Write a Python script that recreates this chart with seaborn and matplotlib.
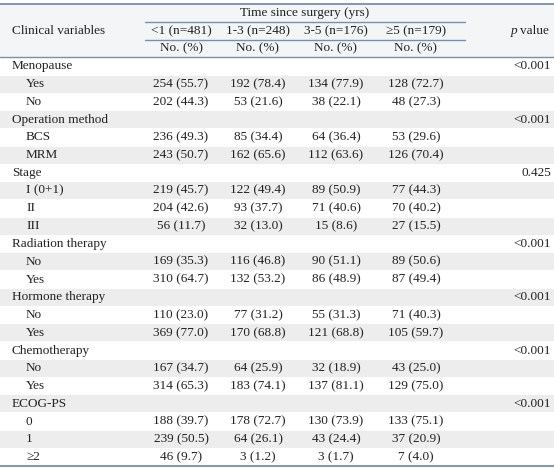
import numpy as np
import matplotlib
matplotlib.use("Agg")
import matplotlib.pyplot as plt
import seaborn as sns

# 表データ
row_labels = ["Menopause", "Yes", "No",
              "Operation method", "BCS", "MRM",
              "Stage", "I (0+1)", "II", "III",
              "Radiation therapy", "No", "Yes",
              "Hormone therapy", "No", "Yes",
              "Chemotherapy", "No", "Yes",
              "ECOG-PS", "0", "1", "\u22652"]
is_group = [True, False, False,
            True, False, False,
            True, False, False, False,
            True, False, False,
            True, False, False,
            True, False, False,
            True, False, False, False]
p_values = ["<0.001", "", "",
            "<0.001", "", "",
            "0.425", "", "", "",
            "<0.001", "", "",
            "<0.001", "", "",
            "<0.001", "", "",
            "<0.001", "", "", ""]

group_names = ["<1 (n=481)", "1-3 (n=248)", "3-5 (n=176)", "\u22655 (n=179)"]

# 件数 (サブ行のみ)
count_lt1 = [254, 202, 236, 243, 219, 204, 56, 169, 310, 110, 369, 167, 314, 188, 239, 46]
count_1to3 = [192, 53, 85, 162, 122, 93, 32, 116, 132, 77, 170, 64, 183, 178, 64, 3]
count_3to5 = [134, 38, 64, 112, 89, 71, 15, 90, 86, 55, 121, 32, 137, 130, 43, 3]
count_ge5 = [128, 48, 53, 126, 77, 70, 27, 89, 87, 71, 105, 43, 129, 133, 37, 7]
# 割合 (%)
pct_lt1 = [55.7, 44.3, 49.3, 50.7, 45.7, 42.6, 11.7, 35.3, 64.7, 23.0, 77.0, 34.7, 65.3, 39.7, 50.5, 9.7]
pct_1to3 = [78.4, 21.6, 34.4, 65.6, 49.4, 37.7, 13.0, 46.8, 53.2, 31.2, 68.8, 25.9, 74.1, 72.7, 26.1, 1.2]
pct_3to5 = [77.9, 22.1, 36.4, 63.6, 50.9, 40.6, 8.6, 51.1, 48.9, 31.3, 68.8, 18.9, 81.1, 73.9, 24.4, 1.7]
pct_ge5 = [72.7, 27.3, 29.6, 70.4, 44.3, 40.2, 15.5, 50.6, 49.4, 40.3, 59.7, 25.0, 75.0, 75.1, 20.9, 4.0]

counts = [count_lt1, count_1to3, count_3to5, count_ge5]
pcts = [pct_lt1, pct_1to3, pct_3to5, pct_ge5]

# スタイル
sns.set_theme(style="white")
plt.rcParams['font.family'] = ['Liberation Serif', 'DejaVu Serif']
FS = 9.5
LINE_C = "#7390ad"
STRIPE_C = "#ededed"
HEAD_C = "#f4f5f7"
TEXT_C = "#222222"

W, H = 554, 469
fig = plt.figure(figsize=(W / 100, H / 100), dpi=100)
ax = fig.add_axes([0, 0, 1, 1])
ax.set_xlim(0, W)
ax.set_ylim(H, 0)
ax.axis("off")

col_x = [181, 258, 336, 416]
p_x = 551
body_top = 57.5
row_h = (466 - body_top) / len(row_labels)

# ヘッダー背景と罫線
ax.axhspan(4, body_top, color=HEAD_C, lw=0, zorder=0)
ax.axhline(4, color=LINE_C, lw=1.3, zorder=2)
ax.plot([145, 465], [22, 22], color=LINE_C, lw=1.0, zorder=2)
ax.plot([145, 465], [40, 40], color=LINE_C, lw=1.0, zorder=2)
ax.axhline(body_top, color=LINE_C, lw=1.0, zorder=2)
ax.axhline(466, color=LINE_C, lw=1.3, zorder=2)

ax.text(305, 13, "Time since surgery (yrs)", ha="center", va="center", fontsize=FS, color=TEXT_C)
ax.text(12, 31, "Clinical variables", ha="left", va="center", fontsize=FS, color=TEXT_C)
ax.text(511, 31, "p", ha="left", va="center", fontsize=FS, style="italic", color=TEXT_C)
ax.text(520, 31, "value", ha="left", va="center", fontsize=FS, color=TEXT_C)
for x, g in zip(col_x, group_names):
    ax.text(x, 31, g, ha="center", va="center", fontsize=FS, color=TEXT_C)
    ax.text(x, 48.5, "No. (%)", ha="center", va="center", fontsize=FS, color=TEXT_C)

# 本体
k = 0
for i, (lab, grp, pv) in enumerate(zip(row_labels, is_group, p_values)):
    y0 = body_top + i * row_h
    yc = y0 + row_h / 2
    if i % 2 == 1:
        ax.axhspan(y0 + 0.5, y0 + row_h - 0.5, color=STRIPE_C, lw=0, zorder=0)
    ax.text(12 if grp else 26, yc, lab, ha="left", va="center", fontsize=FS, color=TEXT_C)
    if pv:
        ax.text(p_x, yc, pv, ha="right", va="center", fontsize=FS, color=TEXT_C)
    if not grp:
        for x, c, p in zip(col_x, counts, pcts):
            ax.text(x, yc, f"{c[k]} ({p[k]:.1f})", ha="center", va="center",
                    fontsize=FS, color=TEXT_C)
        k += 1

fig.savefig("out.png", dpi=100)
